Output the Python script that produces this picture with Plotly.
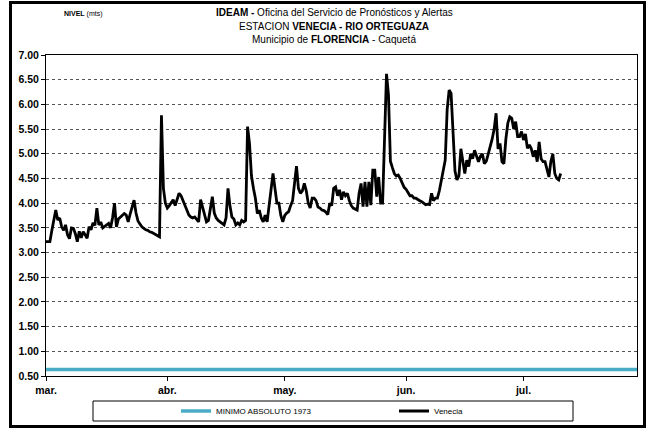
import pandas as pd
import plotly.graph_objects as go

# ---------------- data ----------------
start_date = "2011-03-01"          # first reading, 12-hourly series
month_ticks = ["2011-03-01", "2011-04-01", "2011-05-01", "2011-06-01", "2011-07-01"]
month_labels = ["mar.", "abr.", "may.", "jun.", "jul."]

venecia_mar = [3.22, 3.22, 3.22, 3.45, 3.70, 3.86, 3.66, 3.70, 3.52, 3.45,
               3.56, 3.36, 3.28, 3.50, 3.49, 3.38, 3.22, 3.43, 3.30, 3.42,
               3.36, 3.29, 3.52, 3.46, 3.60, 3.55, 3.90, 3.56, 3.62, 3.50,
               3.53, 3.56, 3.59, 3.50, 3.70, 4.00, 3.52, 3.68, 3.72, 3.76,
               3.79, 3.76, 3.62, 3.78, 3.90, 4.06, 3.80, 3.64, 3.58, 3.52,
               3.49, 3.46, 3.45, 3.42, 3.41, 3.39, 3.37, 3.34, 3.32, 5.78,
               4.30, 4.00]
venecia_abr = [3.90, 3.95, 4.00, 4.07, 3.95, 4.10, 4.20, 4.15, 4.05, 3.93,
               3.85, 3.76, 3.72, 3.70, 3.72, 3.68, 3.62, 4.07, 3.90, 3.75,
               3.62, 3.65, 3.93, 4.13, 3.80, 3.70, 3.65, 3.62, 3.60, 3.56,
               3.70, 4.30, 3.95, 3.72, 3.68, 3.56, 3.60, 3.56, 3.65, 3.62,
               3.65, 5.55, 5.20, 4.55, 4.30, 4.10, 3.79, 3.86, 3.70, 3.62,
               3.76, 3.62, 3.95, 4.30, 4.60, 4.30, 4.00, 4.00, 3.75, 3.62]
venecia_may = [3.75, 3.80, 3.83, 3.95, 4.05, 4.40, 4.75, 4.30, 4.20, 4.25,
               4.40, 4.25, 4.00, 3.90, 4.10, 4.10, 4.05, 3.92, 3.90, 3.86,
               3.85, 3.82, 3.77, 4.00, 3.95, 4.30, 4.33, 4.15, 4.27, 4.07,
               4.23, 4.15, 4.20, 4.05, 3.95, 3.90, 3.88, 3.86, 4.20, 4.40,
               3.93, 4.43, 3.93, 4.43, 3.96, 4.67, 4.67, 4.13, 4.53, 4.00,
               4.00, 5.20, 6.62, 6.20, 4.85, 4.72, 4.60, 4.55, 4.57, 4.50,
               4.40, 4.32]
venecia_jun = [4.28, 4.20, 4.15, 4.15, 4.10, 4.10, 4.07, 4.05, 4.03, 4.00,
               3.97, 3.98, 3.97, 4.20, 4.05, 4.10, 4.10, 4.25, 4.45, 4.65,
               4.87, 5.90, 6.29, 6.22, 5.30, 4.65, 4.47, 4.55, 5.10, 4.80,
               4.60, 4.87, 4.74, 5.00, 4.90, 5.07, 4.97, 4.84, 4.95, 5.00,
               4.80, 4.85, 5.00, 5.14, 5.30, 5.50, 5.82, 5.10, 5.21, 4.84,
               4.80, 5.30, 5.62, 5.75, 5.72, 5.50, 5.65, 5.35, 5.35, 5.45]
venecia_jul = [5.28, 5.40, 5.11, 5.18, 5.10, 4.94, 5.07, 4.84, 5.24, 4.90,
               4.84, 4.84, 4.67, 4.53, 4.85, 5.00, 4.60, 4.50, 4.47, 4.60]
venecia = venecia_mar + venecia_abr + venecia_may + venecia_jun + venecia_jul

minimo_dates = ["2011-03-01", "2011-07-30"]
minimo_values = [0.63, 0.63]

x_range = ["2011-03-01", "2011-07-30"]
y_range = [0.5, 7.0]

title_lines = [
    "<b>IDEAM -</b> Oficina del Servicio de Pronósticos y Alertas",
    "ESTACION <b>VENECIA - RIO ORTEGUAZA</b>",
    "Municipio de <b>FLORENCIA</b> - Caquetá",
]

venecia_dates = pd.date_range(start=start_date, periods=len(venecia), freq="12h")

# ---------------- figure ----------------
FONT = "Liberation Sans, Arial, sans-serif"

fig = go.Figure()
fig.add_trace(go.Scatter(x=minimo_dates, y=minimo_values, mode="lines",
                         name="MINIMO ABSOLUTO 1973",
                         line=dict(color="#4BACC6", width=3.5)))
fig.add_trace(go.Scatter(x=venecia_dates, y=venecia, mode="lines",
                         name="Venecia",
                         line=dict(color="black", width=2.8)))

L, R, T, B = 46, 13, 55, 54
W, H = 650, 430
pw, ph = W - L - R, H - T - B


def px(x):
    return (x - L) / pw


def py(y):
    return (H - B - y) / ph


annotations = [
    dict(text="<b>NIVEL</b> (mts)", xref="paper", yref="paper",
         x=px(62), y=py(14), xanchor="left", yanchor="middle",
         showarrow=False, font=dict(family=FONT, size=7, color="black")),
]
for line_text, ypix in zip(title_lines, [13, 26, 39]):
    annotations.append(dict(text=line_text, xref="paper", yref="paper",
                            x=px(334), y=py(ypix), xanchor="center", yanchor="middle",
                            showarrow=False,
                            font=dict(family=FONT, size=10, color="black")))

fig.update_layout(
    width=W, height=H,
    margin=dict(l=L, r=R, t=T, b=B, autoexpand=False),
    paper_bgcolor="white", plot_bgcolor="white",
    font=dict(family=FONT, color="black", size=11),
    xaxis=dict(type="date", range=x_range, tickvals=month_ticks, ticktext=month_labels,
               ticks="outside", ticklen=4, tickcolor="black",
               showline=True, linecolor="black", linewidth=1, mirror=True,
               showgrid=False, zeroline=False,
               tickfont=dict(family=FONT, size=10.5, weight="bold")),
    yaxis=dict(range=y_range, tick0=0.5, dtick=0.5, tickformat=".2f",
               ticks="outside", ticklen=4, tickcolor="black",
               showline=True, linecolor="black", linewidth=1, mirror=True,
               showgrid=True, gridcolor="#555555", griddash="dot", gridwidth=1,
               zeroline=False,
               tickfont=dict(family=FONT, size=10.5, weight="bold")),
    showlegend=True,
    legend=dict(orientation="h", x=px(176), xanchor="left",
                y=py(411), yanchor="middle",
                entrywidth=173, entrywidthmode="pixels",
                bgcolor="rgba(0,0,0,0)", borderwidth=0,
                font=dict(family=FONT, size=8, color="black")),
    shapes=[
        dict(type="rect", xref="paper", yref="paper",
             x0=px(93), x1=px(573), y0=py(421), y1=py(401),
             line=dict(color="black", width=1), fillcolor="white", layer="below"),
        dict(type="rect", xref="paper", yref="paper",
             x0=px(10.5), x1=px(644.5), y0=py(426.5), y1=py(2.5),
             line=dict(color="black", width=3), fillcolor="rgba(0,0,0,0)"),
    ],
    annotations=annotations,
)

fig.write_html("out.html", config={"displayModeBar": False},
               post_script="document.body.style.margin='0px';")
